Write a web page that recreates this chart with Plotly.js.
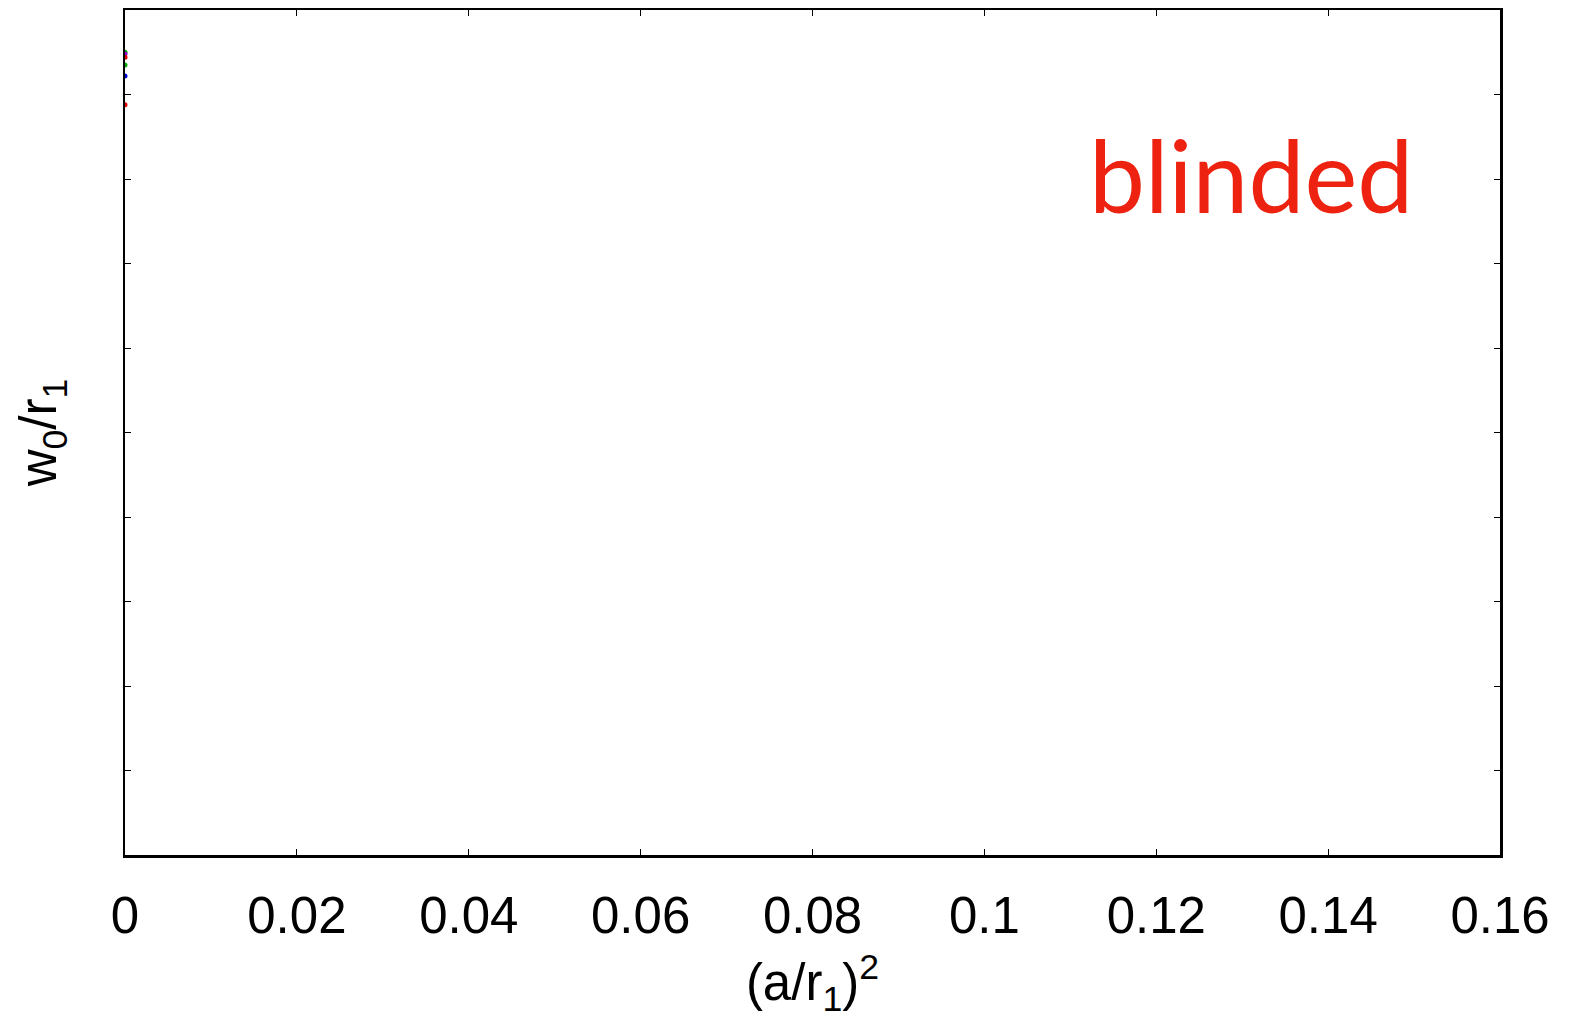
<!DOCTYPE html>
<html>
<head>
<meta charset="utf-8">
<script src="https://cdn.plot.ly/plotly-3.0.1.min.js"></script>
<style>html,body{margin:0;padding:0;background:#fff;}#chart{width:1571px;height:1025px;}</style>
</head>
<body>
<div id="chart"></div>
<script>
// Data (blinded: only a few points at the continuum limit peek out at x = 0)
const xValues = [0, 0, 0, 0, 0, 0];
const yValues = [9.50, 9.48, 9.44, 9.35, 9.22, 8.88];
const pointColors = ['#00aa00', '#9900cc', '#dd0000', '#00aa00', '#0000dd', '#dd0000'];
const xTickVals = [0, 0.02, 0.04, 0.06, 0.08, 0.1, 0.12, 0.14, 0.16];
const xTickText = ['0', '0.02', '0.04', '0.06', '0.08', '0.1', '0.12', '0.14', '0.16'];
const yTickVals = [1, 2, 3, 4, 5, 6, 7, 8, 9];

const traces = [{
  type: 'scatter',
  mode: 'markers',
  x: xValues,
  y: yValues,
  marker: {color: pointColors, size: 5},
  cliponaxis: true,
  showlegend: false,
  hoverinfo: 'skip'
}];

const fontFam = '"Liberation Sans", Arial, Helvetica, sans-serif';

const layout = {
  width: 1571,
  height: 1025,
  margin: {l: 125, r: 71, t: 10, b: 170},
  paper_bgcolor: '#ffffff',
  plot_bgcolor: '#ffffff',
  showlegend: false,
  xaxis: {
    range: [0, 0.16],
    tickvals: xTickVals,
    ticktext: xTickText,
    ticks: 'inside',
    ticklen: 6,
    tickwidth: 1,
    tickcolor: '#000',
    mirror: 'allticks',
    showline: true,
    linecolor: '#000',
    linewidth: 2.5,
    showgrid: false,
    zeroline: false,
    ticklabelstandoff: 14,
    tickfont: {family: fontFam, size: 51, color: '#000'},
    title: {text: '(a/r<sub>1</sub>)<sup>2</sup>', font: {family: fontFam, size: 51, color: '#000'}, standoff: 22}
  },
  yaxis: {
    range: [0, 10],
    tickvals: yTickVals,
    showticklabels: false,
    ticks: 'inside',
    ticklen: 6,
    tickwidth: 1,
    tickcolor: '#000',
    mirror: 'allticks',
    showline: true,
    linecolor: '#000',
    linewidth: 2.5,
    showgrid: false,
    zeroline: false,
    title: {text: 'w<sub>0</sub>/r<sub>1</sub>', font: {family: fontFam, size: 51, color: '#000'}, standoff: 50}
  },
  annotations: [{
    text: 'blinded',
    xref: 'paper', yref: 'paper',
    x: 0.819, y: 0.806,
    xanchor: 'center', yanchor: 'middle',
    showarrow: false,
    font: {family: 'Lato, "Open Sans", sans-serif', size: 100, color: '#ee2211'}
  }]
};

Plotly.newPlot('chart', traces, layout, {staticPlot: true, displayModeBar: false});
</script>
</body>
</html>
